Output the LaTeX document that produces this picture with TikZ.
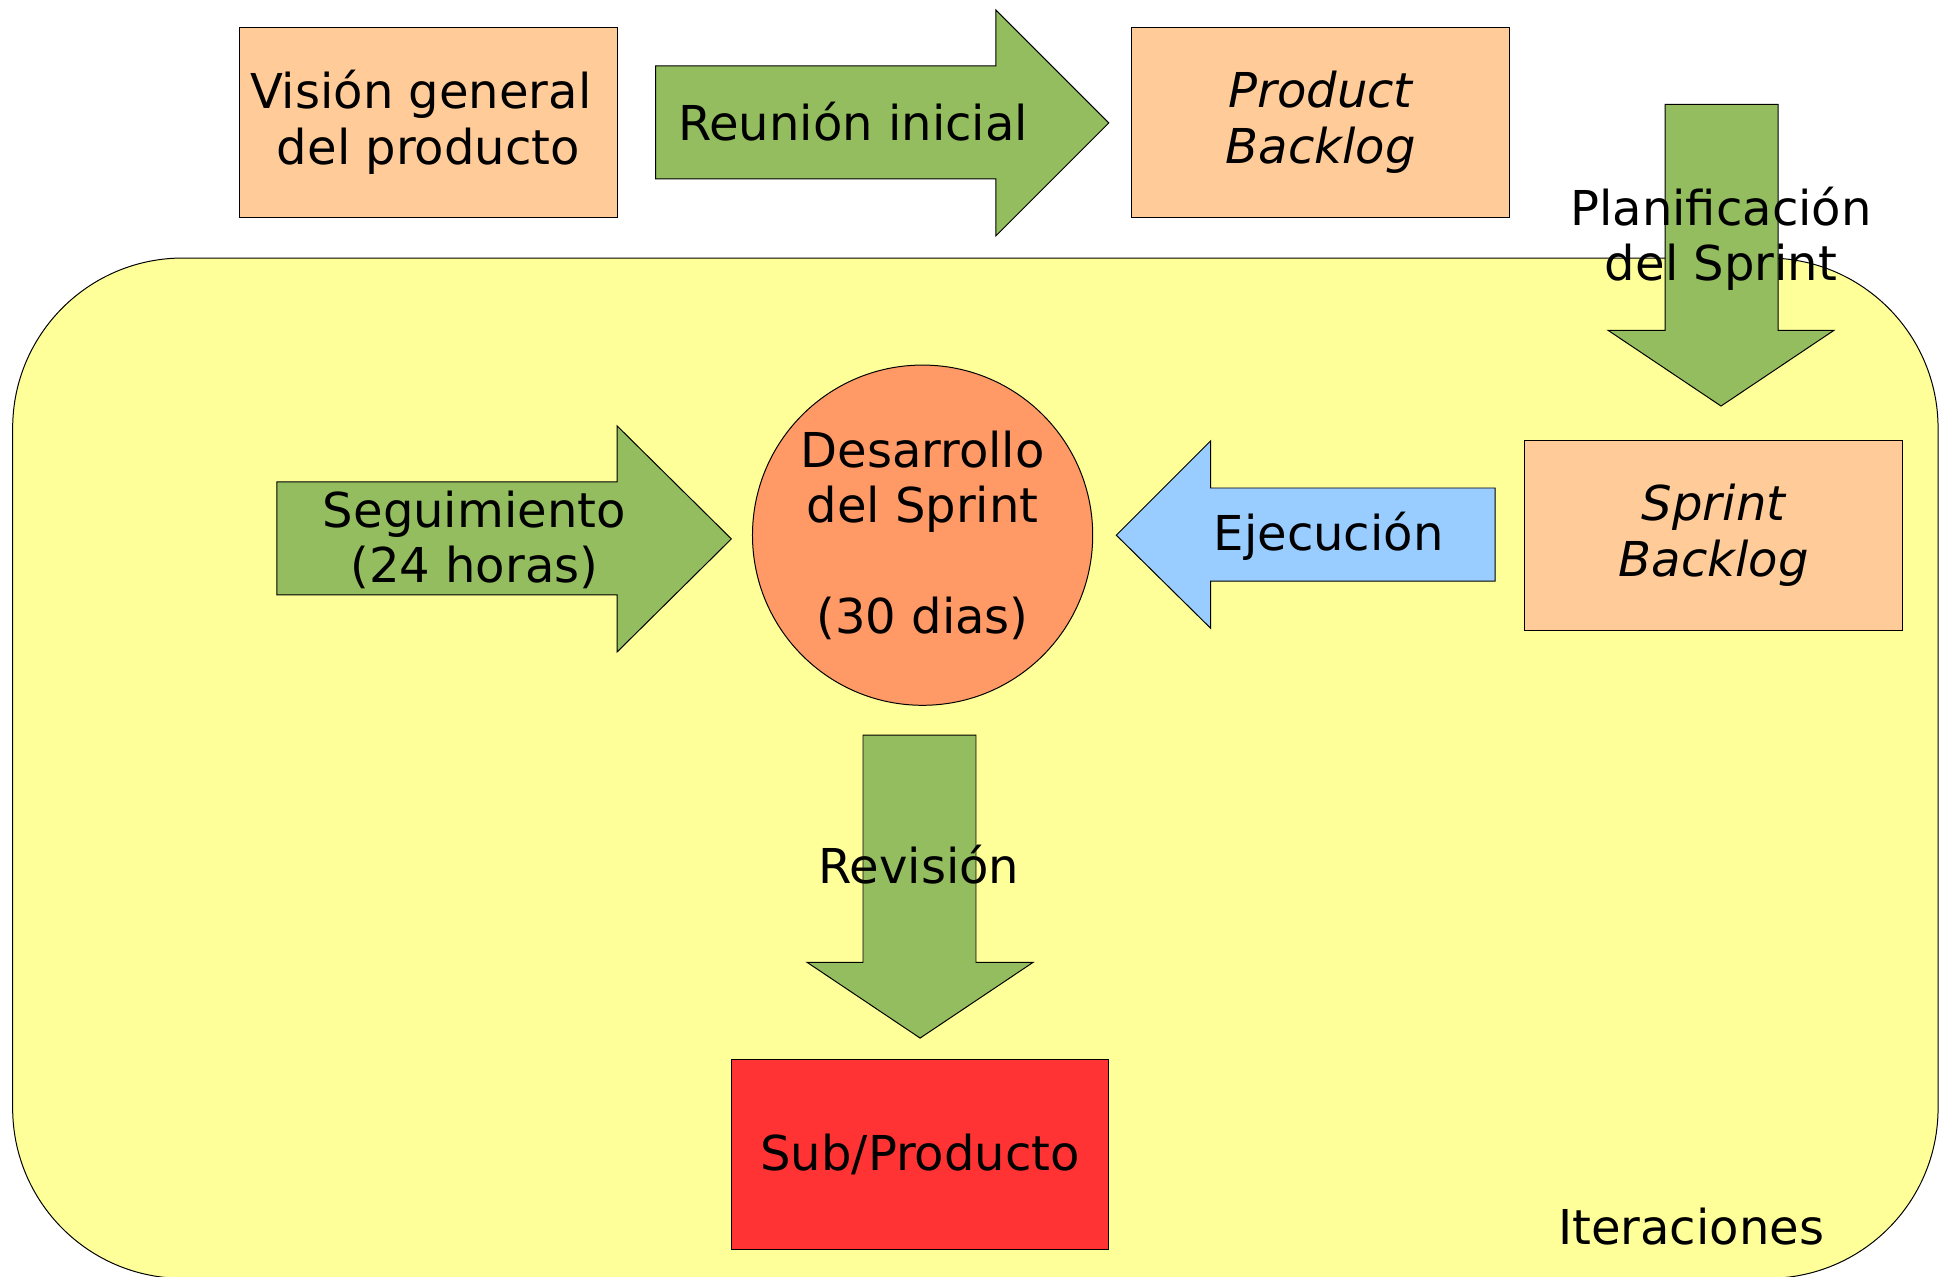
\documentclass[tikz,border=0pt]{standalone}
\usepackage{fontspec}
\setmainfont{DejaVu Sans}
\definecolor{peach}{HTML}{FFCC99}
\definecolor{grn}{HTML}{93BD5E}
\definecolor{yel}{HTML}{FFFF99}
\definecolor{circ}{HTML}{FF9966}
\definecolor{redb}{HTML}{FF3333}
\definecolor{blu}{HTML}{99CCFF}
\tikzset{
  big/.style={font=\fontsize{38.7}{44.5}\selectfont, align=center, inner sep=0pt, text=black},
  boxnode/.style={big, draw=black, line width=0.8pt, minimum width=304pt, minimum height=153pt, fill=peach},
  arrowshape/.style={draw=black, line width=0.8pt, fill=grn, line join=miter},
  txt/.style={big}
}
\begin{document}
\begin{tikzpicture}[x=1pt,y=-1pt]
\useasboundingbox (0,0) rectangle (1568,1028);
% iteration area
\draw[fill=yel, line width=0.8pt, rounded corners=137pt] (10.2,207.8) rectangle (1560.8,1029.5);
% top row
\node[boxnode] (vision) at (345,98.5) {Visión general\kern0.32em\\del producto};
\draw[arrowshape] (528,53) -- (802,53) -- (802,8) -- (893,99) -- (802,190) -- (802,144) -- (528,144) -- cycle;
\node[txt] (reunion) at (687,98.2) {Reunión inicial};
\node[boxnode] (pb) at (1063.5,98.5) {\itshape Product\\\itshape Backlog};
% planning arrow
\draw[arrowshape] (1341,84) -- (1432,84) -- (1432,266) -- (1477,266) -- (1386,327) -- (1295,266) -- (1341,266) -- cycle;
\node[txt] (plan) at (1386,192.5) {Planificación\\del Sprint};
% middle row
\draw[arrowshape] (223,388) -- (497,388) -- (497,343) -- (589,434) -- (497,525) -- (497,479) -- (223,479) -- cycle;
\node[txt] (seg) at (382,435) {Seguimiento\\(24 horas)};
\node[big, circle, draw=black, line width=0.8pt, fill=circ, minimum size=274pt] (dev) at (743,431) {Desarrollo\\del Sprint\\[44.5pt](30 dias)};
\draw[arrowshape, fill=blu] (1204,393) -- (975,393) -- (975,355) -- (899,431) -- (975,506) -- (975,468) -- (1204,468) -- cycle;
\node[txt] (ejec) at (1070,432.2) {Ejecución};
\node[boxnode] (sb) at (1380,431) {\itshape Sprint\\\itshape Backlog};
% review
\draw[arrowshape] (695,592) -- (786,592) -- (786,775) -- (832,775) -- (741,836) -- (650,775) -- (695,775) -- cycle;
\node[txt] (rev) at (740,696.5) {Revisión};
\node[boxnode, fill=redb] (sub) at (741,930) {Sub/Producto};
\node[txt] (iter) at (1362,988) {Iteraciones};
\end{tikzpicture}
\end{document}
